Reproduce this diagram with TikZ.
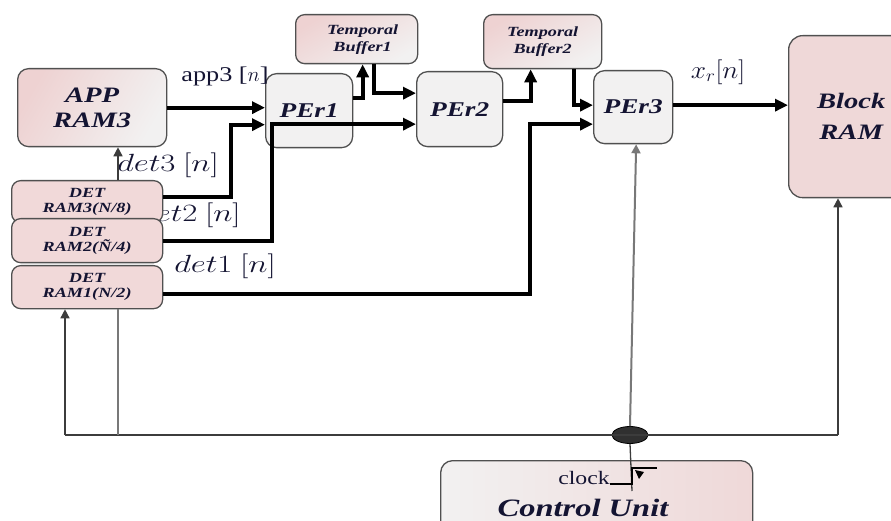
\documentclass[tikz,border=0pt]{standalone}
\usepackage{graphicx}
\usepackage{fontspec}
\setmainfont{Liberation Serif}
\newfontfamily\bif[FakeStretch=1.3]{Liberation Serif}
\newfontfamily\rmst[FakeStretch=1.25]{Liberation Serif}
\usetikzlibrary{arrows.meta,shapes.geometric,calc}
\definecolor{pinkf}{RGB}{238,210,210}
\definecolor{grayf}{RGB}{242,241,241}
\definecolor{bord}{RGB}{80,80,80}
\definecolor{txt}{RGB}{20,20,50}
\definecolor{wire}{RGB}{60,60,60}
\definecolor{gwire}{RGB}{120,120,120}
\begin{document}
\begin{tikzpicture}[x=1pt,y=-1pt,
  box/.style={draw=bord, line width=1.3pt, rounded corners=11pt, inner sep=2pt, align=center, text=txt, anchor=north west},
  pebox/.style={box, fill=grayf, font=\bif\bfseries\itshape\fontsize{21}{23}\selectfont},
  pinkbox/.style={box, top color=pinkf, bottom color=grayf, shading angle=30},
  detbox/.style={box, fill=pinkf!85!white, rounded corners=9pt, minimum width=151pt, font=\bif\bfseries\itshape\fontsize{14}{15}\selectfont},
  bus/.style={line width=3.8pt, -{Triangle[length=13pt,width=12pt]}},
  thin/.style={draw=wire, line width=1.5pt, -{Triangle[length=9pt,width=9pt]}},
  thinn/.style={draw=wire, line width=1.5pt},
  lbl/.style={text=txt, inner sep=0pt},
  mlbl/.style={lbl, font=\fontsize{23}{25}\selectfont}
]
\useasboundingbox (0,0) rectangle (891,521);

% label drawn under the DET boxes
\node[mlbl, anchor=west] (l2) at (139,215) {\scalebox{1.32}[1]{$det2\ [n]$}};

% boxes
\node[pinkbox, shading angle=60, minimum width=149pt, minimum height=78pt, font=\bif\bfseries\itshape\fontsize{22}{25}\selectfont] (app) at (17,68) {APP\\RAM3};
\node[pebox, minimum width=87pt, minimum height=74pt] (per1) at (265,73) {PEr1};
\node[pebox, minimum width=86pt, minimum height=75pt] (per2) at (416,71) {PEr2};
\node[pebox, minimum width=79pt, minimum height=73pt] (per3) at (593,70) {PEr3};
\node[pinkbox, rounded corners=9pt, minimum width=122pt, minimum height=49pt, font=\bif\bfseries\itshape\fontsize{14}{17}\selectfont] (buf1) at (295,14) {\hspace*{12pt}Temporal\\\hspace*{12pt}Buffer1};
\node[pinkbox, rounded corners=9pt, minimum width=118pt, minimum height=54pt, font=\bif\bfseries\itshape\fontsize{14}{17}\selectfont] (buf2) at (483,14) {Temporal\\Buffer2};
\node[box, fill=pinkf!80!grayf, rounded corners=14pt, minimum width=125pt, minimum height=162pt, font=\bif\bfseries\itshape\fontsize{22}{31}\selectfont] (block) at (788,35) {Block\\RAM};
\node[detbox, minimum height=42pt] (det3) at (11,180) {DET\\RAM3(N/8)};
\node[detbox, minimum height=44pt] (det2) at (11,218) {DET\\RAM2(Ñ/4)};
\node[detbox, minimum height=43pt] (det1) at (11,265) {DET\\RAM1(N/2)};
\node[box, left color=grayf, right color=pinkf!80!grayf, rounded corners=12pt, minimum width=312pt, minimum height=80pt] (ctrl) at (440,460) {};
\node[lbl, font=\bif\bfseries\itshape\fontsize{25}{28}\selectfont] (ctrltxt) at (583,508) {Control Unit};

% other labels
\node[lbl, font=\rmst\fontsize{21}{22}\selectfont] (l0) at (225,76) {app3 [$n$]};
\node[mlbl] (l3) at (168,165) {\scalebox{1.32}[1]{$det3\ [n]$}};
\node[mlbl] (l1) at (225,266) {\scalebox{1.32}[1]{$det1\ [n]$}};
\node[lbl, font=\fontsize{27}{28}\selectfont] (lx) at (718,72) {\scalebox{1.1}[1]{$x_r[n]$}};

% data connectors
\draw[bus] (app.east) -- (app.east -| per1.west);
\draw[bus] ($(det3.east)+(0,-5)$) -- ++(68,0) |- ($(per1.west)+(0,14)$);
\draw[bus] (det2.east) -- ++(109,0) |- ($(per2.west)+(0,15)$);
\draw[bus] ($(det1.east)+(0,7)$) -- ++(367,0) |- ($(per3.west)+(0,17)$);
\draw[bus] ($(per1.east)+(0,-13)$) -| ($(buf1.south)+(6,0)$);
\draw[bus] ($(buf1.south)+(17,0)$) |- ($(per2.west)+(0,-16)$);
\draw[bus] ($(per2.east)+(0,-8)$) -| ($(buf2.south)+(-12,0)$);
\draw[bus] ($(buf2.south)+(31,0)$) |- ($(per3.west)+(0,-2)$);
\draw[bus] ($(per3.east)+(0,-2)$) -- ($(per3.east -| block.west)+(0,-2)$);
\draw[thin] (det3.north -| 118,0) -- (app.south -| 118,0);

% control bus
\coordinate (busL) at (65,435);
\coordinate (busR) at (838,435);
\coordinate (gtap) at (118,435);
\node[ellipse, fill=wire!80!black, draw=black, line width=0.8pt, minimum width=36pt, minimum height=17pt, inner sep=0pt] (clk) at (630,435) {};
\draw[thinn] (busL) -- (busR);
\draw[thin] (busL) -- (busL |- det1.south);
\draw[thin] (busR) -- (busR |- block.south);
\draw[draw=gwire, line width=2pt] (gtap) -- (gtap |- det1.south);
\draw[draw=gwire, line width=2pt, -{Triangle[length=9pt,width=9pt]}] (clk.north) -- ($(per3.south)+(3,0)$);
% clock symbol
\node[lbl, font=\rmst\fontsize{19}{20}\selectfont] (clocklbl) at (584,478) {clock};
\coordinate (ck1) at (632,484);
\coordinate (ck2) at (632,468);
\coordinate (ck3) at (657,468);
\draw[draw=wire, line width=1.3pt] (clk.south) -- (632,491);
\draw[draw=black, line width=1.2pt] (clocklbl.east |- ck1) -- (ck1) -- (ck2) -- (ck3);
\fill[black] (635,470) -- (644,472) -- (639,479) -- cycle;
\end{tikzpicture}
\end{document}
